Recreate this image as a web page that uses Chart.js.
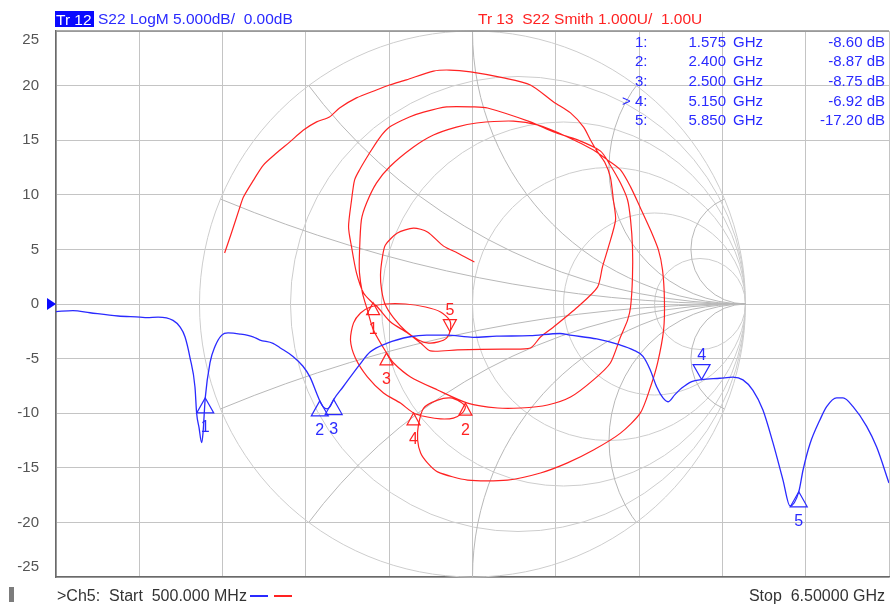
<!DOCTYPE html>
<html>
<head>
<meta charset="utf-8">
<script src="https://cdn.jsdelivr.net/npm/chart.js@4/dist/chart.umd.min.js"></script>
<style>
  body { margin: 0; background: #fff; }
  #wrap { position: relative; width: 890px; height: 607px; overflow: hidden; }
  #wrap canvas { position: absolute; left: 0; top: 0; }
  .t { position: absolute; white-space: pre; line-height: 1; font-family: "Liberation Sans", Arial, sans-serif; }
</style>
</head>
<body>
<div id="wrap"><canvas id="vna" width="890" height="607"></canvas></div>
<script>
// ---- Tr 12 : S22 LogM (blue) ----
const freqGHz = [0.500,0.622,0.745,0.947,1.105,1.155,1.235,1.343,1.393,1.429,1.465,1.501,1.513,1.530,1.549,1.559,1.575,1.609,1.645,1.694,
  1.739,1.825,1.919,1.969,2.063,2.113,2.207,2.279,2.330,2.378,2.400,2.423,2.452,2.474,2.500,2.567,2.690,2.762,2.882,3.050,
  3.170,3.314,3.504,3.674,3.914,4.130,4.202,4.395,4.562,4.656,4.728,4.779,4.827,4.872,4.908,4.958,5.007,5.079,5.150,5.282,
  5.376,5.448,5.520,5.592,5.664,5.736,5.787,5.850,5.881,5.931,6.003,6.051,6.123,6.169,6.241,6.339,6.411,6.500];
const s22dB = [-0.7,-0.6,-0.8,-1.1,-1.2,-1.25,-1.2,-1.5,-2.1,-3.0,-4.9,-7.6,-10.0,-11.3,-12.7,-11.8,-8.6,-5.4,-3.9,-2.85,
  -2.65,-2.75,-3.0,-3.3,-3.6,-4.0,-4.8,-5.7,-6.7,-8.2,-8.87,-9.4,-9.6,-9.4,-8.75,-7.6,-5.5,-4.4,-3.6,-3.0,
  -2.85,-2.85,-3.05,-2.95,-2.9,-2.7,-2.85,-3.2,-3.75,-4.2,-4.8,-6.0,-7.6,-8.6,-8.95,-8.3,-7.7,-7.1,-6.92,-6.8,
  -6.7,-6.95,-7.9,-9.7,-12.7,-16.1,-18.5,-17.2,-15.2,-12.8,-10.6,-9.4,-8.6,-8.6,-9.4,-11.2,-13.1,-16.4];

// ---- Tr 13 : S22 Smith (red), reflection coefficient re / im ----
const gammaRe = [-0.908,-0.883,-0.853,-0.839,-0.802,-0.766,-0.718,-0.670,-0.619,-0.571,-0.524,-0.487,-0.425,-0.352,-0.304,-0.242,-0.143,-0.084,-0.007,0.114,0.212,0.297,0.359,0.407,0.432,0.458,0.484,
  0.505,0.516,0.524,0.498,0.476,0.458,0.385,0.297,0.249,0.212,0.114,-0.055,-0.154,-0.190,-0.238,-0.300,-0.348,-0.366,-0.399,
  -0.425,-0.443,-0.454,-0.443,-0.432,-0.414,-0.377,-0.341,-0.304,-0.231,-0.179,-0.095,0.004,0.055,0.212,0.297,0.385,0.469,0.502,
  0.542,0.568,0.579,0.586,0.586,0.579,0.568,0.542,0.505,0.443,0.359,0.275,0.176,0.092,-0.018,-0.128,-0.227,-0.289,-0.315,-0.363,-0.385,-0.403,
  -0.414,-0.414,-0.407,-0.388,-0.352,-0.304,-0.216,-0.143,-0.059,0.015,0.150,0.238,0.348,0.443,0.495,
  0.542,0.579,0.615,0.652,0.681,0.696,0.703,0.700,0.678,0.652,0.615,0.542,0.443,0.348,0.249,0.128,-0.018,-0.128,-0.165,-0.190,-0.201,-0.198,-0.179,
  -0.128,-0.081,-0.044,-0.026,-0.037,-0.070,-0.117,-0.165,-0.216,
  -0.264,-0.326,-0.385,-0.429,-0.447,-0.436,-0.410,-0.374,-0.319,-0.245,-0.172,-0.117,-0.084,-0.081,-0.095,-0.125,-0.161,-0.198,-0.245,-0.289,-0.319,-0.333,-0.337,-0.330,-0.319,-0.275,-0.216,-0.165,-0.106,-0.055,0.007];
const gammaIm = [0.187,0.260,0.352,0.392,0.454,0.509,0.553,0.593,0.637,0.667,0.685,0.718,0.755,0.784,0.802,0.821,0.853,0.857,0.850,0.828,0.802,0.740,0.700,0.648,0.601,0.557,0.520,
  0.465,0.381,0.308,0.209,0.136,0.062,-0.011,-0.084,-0.121,-0.161,-0.165,-0.168,-0.172,-0.143,-0.106,-0.066,-0.011,0.004,0.040,
  0.114,0.209,0.282,0.381,0.454,0.491,0.553,0.608,0.648,0.685,0.703,0.722,0.722,0.718,0.667,0.630,0.601,0.560,0.513,
  0.443,0.381,0.308,0.209,0.099,-0.011,-0.059,-0.121,-0.216,-0.278,-0.341,-0.370,-0.381,-0.381,-0.363,-0.315,-0.267,-0.216,-0.179,-0.095,-0.022,0.040,
  0.114,0.187,0.308,0.370,0.443,0.502,0.575,0.619,0.648,0.663,0.670,0.656,0.612,0.564,0.527,
  0.491,0.429,0.352,0.271,0.198,0.125,0.015,-0.095,-0.216,-0.304,-0.399,-0.473,-0.535,-0.582,-0.619,-0.645,-0.645,-0.615,-0.582,-0.546,-0.498,-0.443,-0.381,
  -0.352,-0.344,-0.359,-0.377,-0.399,-0.418,-0.421,-0.414,-0.399,
  -0.363,-0.326,-0.267,-0.198,-0.132,-0.070,-0.033,-0.011,0,0,-0.011,-0.029,-0.059,-0.095,-0.125,-0.139,-0.143,-0.132,-0.099,-0.051,-0.004,0.051,0.106,0.172,0.216,0.260,0.278,0.264,0.212,0.187,0.154];

// markers
const markerNo = ['1','2','3','4','5'];
const markerFreq = [1.575, 2.400, 2.500, 5.150, 5.850];
const markerDb = [-8.60, -8.87, -8.75, -6.92, -17.20];
const markerRe = [-0.364, -0.026, -0.315, -0.216, -0.083];
const markerIm = [0.005, -0.363, -0.179, -0.399, -0.101];

// axes
const yTicks = [25, 20, 15, 10, 5, 0, -5, -10, -15, -20, -25];
const xGrid = [0.5, 1.1, 1.7, 2.3, 2.9, 3.5, 4.1, 4.7, 5.3, 5.9, 6.5];
const smithR = [0.2, 0.5, 1, 2, 5];
const smithX = [0.2, 0.5, 1, 2, 5];

const BLUE = '#2a2aff', RED = '#ff2222';
const FONT = '"Liberation Sans", Arial, sans-serif';

// ---------- text overlay ----------
const wrap = document.getElementById('wrap');
function txt(s, x, base, color, size, align, extra) {
    const d = document.createElement('div');
    d.className = 't';
    d.textContent = s;
    d.style.fontSize = size + 'px';
    d.style.color = color;
    d.style.top = (base - 0.8465 * size) + 'px';
    if (align === 'right') d.style.right = (890 - x) + 'px';
    else d.style.left = x + 'px';
    if (extra) Object.assign(d.style, extra);
    wrap.appendChild(d);
    return d;
}
txt('Tr 12', 55, 24.5, '#fff', 15.5, 'left', { background: '#0a0aff', padding: '1px 2px 0 1px', lineHeight: '15px', top: '10.5px' });
txt('S22 LogM 5.000dB/  0.00dB', 98, 24.5, BLUE, 15.5);
txt('Tr 13  S22 Smith 1.000U/  1.00U', 478, 24.5, RED, 15.5);
markerNo.forEach((n, i) => {
    const b = 46.5 + i * 19.6;
    if (i === 3) txt('>', 622, b, BLUE, 15);
    txt(n + ':', 635, b, BLUE, 15);
    txt(markerFreq[i].toFixed(3), 726, b, BLUE, 15, 'right');
    txt('GHz', 733, b, BLUE, 15);
    txt(markerDb[i].toFixed(2) + ' dB', 885, b, BLUE, 15, 'right');
});
const foot = { fontFamily: '"Liberation Sans Narrow", "Liberation Sans", Arial, sans-serif' };
txt('>Ch5:  Start  500.000 MHz', 57, 602, '#333', 16, 'left', foot);
txt('Stop  6.50000 GHz', 885, 602, '#333', 16, 'right', foot);
const bar = document.createElement('div');
bar.style.cssText = 'position:absolute;left:9px;top:587px;width:5px;height:15px;background:#7c7c7c';
wrap.appendChild(bar);
[[250, BLUE], [274, RED]].forEach(([x, c]) => {
    const l = document.createElement('div');
    l.style.cssText = `position:absolute;left:${x}px;top:595px;width:18px;height:2px;background:${c}`;
    wrap.appendChild(l);
});

// ---------- plugin: smith grid, markers, frame ----------
function drawSmith(chart) {
    const { ctx, scales: { gx, gy } } = chart;
    const px = v => gx.getPixelForValue(v), py = v => gy.getPixelForValue(v);
    const k = px(1) - px(0);
    ctx.save();
    ctx.lineWidth = 1;
    ctx.strokeStyle = '#cdcdcd';
    ctx.beginPath(); ctx.arc(px(0), py(0), k, 0, Math.PI * 2); ctx.stroke();
    ctx.beginPath(); ctx.arc(px(0), py(0), k, 0, Math.PI * 2); ctx.clip();
    smithR.forEach(r => {
        ctx.beginPath(); ctx.arc(px(r / (1 + r)), py(0), k / (1 + r), 0, Math.PI * 2); ctx.stroke();
    });
    ctx.strokeStyle = '#b8b8b8';
    smithX.forEach(x => [x, -x].forEach(v => {
        ctx.beginPath(); ctx.arc(px(1), py(1 / v), k / Math.abs(v), 0, Math.PI * 2); ctx.stroke();
    }));
    ctx.restore();
}

function tri(ctx, x, y, w, h, down, color, label) {
    const b = down ? y - h : y + h;
    ctx.strokeStyle = color; ctx.fillStyle = color; ctx.lineWidth = 1.2;
    ctx.beginPath(); ctx.moveTo(x, y); ctx.lineTo(x - w / 2, b); ctx.lineTo(x + w / 2, b); ctx.closePath(); ctx.stroke();
    ctx.font = '16px ' + FONT; ctx.textAlign = 'center'; ctx.textBaseline = 'middle';
    ctx.fillText(label, x, down ? b - 9 : b + 15);
}

const vnaPlugin = {
    id: 'vna',
    beforeDatasetsDraw(chart) { drawSmith(chart); },
    afterDatasetsDraw(chart) {
        const { ctx, chartArea: a, scales: { x, y, gx, gy } } = chart;
        ctx.save();
        markerNo.forEach((n, i) => {
            tri(ctx, x.getPixelForValue(markerFreq[i]), y.getPixelForValue(markerDb[i]), 17, 15, i === 3, BLUE, n);
            tri(ctx, gx.getPixelForValue(markerRe[i]), gy.getPixelForValue(markerIm[i]), 13, 12, i === 4, RED, n);
        });
        // reference level arrow
        const y0 = y.getPixelForValue(0);
        ctx.fillStyle = '#0a0aff';
        ctx.beginPath(); ctx.moveTo(a.left - 9, y0 - 6); ctx.lineTo(a.left, y0); ctx.lineTo(a.left - 9, y0 + 6); ctx.closePath(); ctx.fill();
        // frame top
        ctx.strokeStyle = '#8c8c8c'; ctx.lineWidth = 1.5;
        ctx.beginPath(); ctx.moveTo(a.left, a.top); ctx.lineTo(a.right, a.top); ctx.stroke();
        // end tick labels sit inside the frame
        ctx.fillStyle = '#555'; ctx.font = '15px ' + FONT; ctx.textAlign = 'right'; ctx.textBaseline = 'middle';
        ctx.fillText(String(yTicks[0]), a.left - 17, a.top + 9);
        ctx.fillText(String(yTicks[yTicks.length - 1]), a.left - 17, a.bottom - 10);
        ctx.restore();
    }
};

new Chart(document.getElementById('vna'), {
    type: 'line',
    data: {
        datasets: [{
            label: 'Tr 12 S22 LogM',
            data: freqGHz.map((f, i) => ({ x: f, y: s22dB[i] })),
            xAxisID: 'x', yAxisID: 'y',
            borderColor: BLUE, borderWidth: 1.3, pointRadius: 0,
            cubicInterpolationMode: 'monotone'
        }, {
            label: 'Tr 13 S22 Smith',
            data: gammaRe.map((r, i) => ({ x: r, y: gammaIm[i] })),
            xAxisID: 'gx', yAxisID: 'gy',
            borderColor: RED, borderWidth: 1.2, pointRadius: 0,
            tension: 0.25
        }]
    },
    options: {
        responsive: false,
        animation: false,
        devicePixelRatio: 1,
        layout: { padding: { left: 0, top: 31, right: 1, bottom: 30 } },
        plugins: { legend: { display: false }, tooltip: { enabled: false } },
        scales: {
            x: {
                type: 'linear', min: 0.5, max: 6.5,
                afterBuildTicks: s => { s.ticks = xGrid.map(v => ({ value: v })); },
                afterFit: s => { s.height = 0; },
                ticks: { display: false },
                grid: { color: '#c4c4c4', lineWidth: 1, drawTicks: false },
                border: { color: '#6a6a6a', width: 1.5 }
            },
            y: {
                type: 'linear', min: -25, max: 25,
                afterBuildTicks: s => { s.ticks = yTicks.map(v => ({ value: v })); },
                afterFit: s => { s.width = 56; },
                ticks: {
                    padding: 17, color: '#555', font: { family: FONT, size: 15 },
                    callback: v => (v === yTicks[0] || v === yTicks[yTicks.length - 1]) ? '' : String(v)
                },
                grid: { color: '#c4c4c4', lineWidth: 1, drawTicks: false },
                border: { color: '#6a6a6a', width: 1.5 }
            },
            gx: { type: 'linear', display: false, min: -1.5256, max: 1.5256 },
            gy: { type: 'linear', display: false, min: -1, max: 1 }
        }
    },
    plugins: [vnaPlugin]
});
</script>
</body>
</html>
